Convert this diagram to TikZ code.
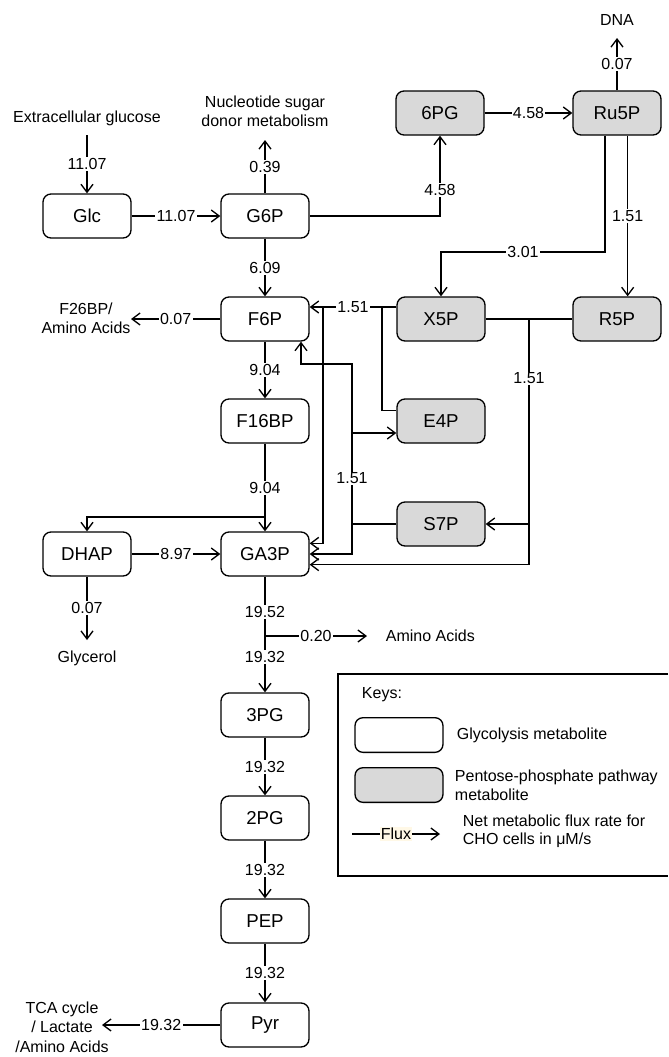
\documentclass[tikz,border=0pt]{standalone}
\usepackage{fontspec}
\setmainfont{Liberation Sans}
\usetikzlibrary{arrows.meta,positioning}
\definecolor{pppGrey}{HTML}{D9D9D9}
\definecolor{fluxTint}{HTML}{FFF8E6}
\tikzset{
  >={Straight Barb[length=6pt,width=9pt]},
  metab/.style={rounded corners=6pt, draw, line width=1pt, fill=white,
              minimum width=66pt, minimum height=33pt, inner sep=2pt,
              font=\fontsize{14}{16}\selectfont},
  ppp/.style={metab, fill=pppGrey},
  rate/.style={fill=white, inner sep=1pt, font=\fontsize{12}{14}\selectfont},
  lbl/.style={font=\fontsize{12}{14.5}\selectfont, align=center, inner sep=2pt},
  flow/.style={->, line width=1pt},
  link/.style={line width=1pt},
}

\begin{document}
\begin{tikzpicture}[x=0.75pt,y=-0.75pt]
    \useasboundingbox (0,0) rectangle (668,1057);
    % glycolysis
    \node[metab] (glc)   at (87,216)  {Glc};
    \node[metab] (g6p)   at (265,216) {G6P};
    \node[metab] (f6p)   at (265,319) {F6P};
    \node[metab] (f16bp) at (265,421) {F16BP};
    \node[metab] (dhap)  at (87,554)  {DHAP};
    \node[metab] (ga3p)  at (265,554) {GA3P};
    \node[metab] (pg3)   at (265,715) {3PG};
    \node[metab] (pg2)   at (265,818) {2PG};
    \node[metab] (pep)   at (265,921) {PEP};
    \node[metab] (pyr)   at (265,1025) {Pyr};
    % pentose phosphate
    \node[ppp] (pg6)  at (440,113) {6PG};
    \node[ppp] (ru5p) at (617,113) {Ru5P};
    \node[ppp] (x5p)  at (441,319) {X5P};
    \node[ppp] (r5p)  at (617,319) {R5P};
    \node[ppp] (e4p)  at (441,421) {E4P};
    \node[ppp] (s7p)  at (441,524) {S7P};
    % sources and sinks
    \node[lbl] (extglc) at (87,118)  {Extracellular glucose};
    \node[lbl] (nsd)    at (265,111) {Nucleotide sugar\\donor metabolism};
    \node[lbl] (dna)    at (617,20)  {DNA};
    \node[lbl] (f26)    at (86,318)  {F26BP/\\Amino Acids};
    \node[lbl] (gly)    at (87,658)  {Glycerol};
    \node[lbl,anchor=west] (aa) at (383,636) {Amino Acids};
    \node[lbl] (tca)    at (62,1027) {TCA cycle\\/ Lactate\\/Amino Acids};
    \coordinate (glctail) at (87,135);
    \coordinate (nsdtip)  at (265,140);
    \coordinate (dnatip)  at (617,38);
    \coordinate (f26tip)  at (131,319);
    \coordinate (glytip)  at (87,640);
    \coordinate (aabr)    at (265,636);
    \coordinate (aatip)   at (367,636);
    \coordinate (tcatip)  at (102,1025);
    \coordinate (dhbr)    at (265,517);

    \draw[flow](glctail)--node[rate]{11.07}(glc);
    \draw[flow](glc)--node[rate]{11.07}(g6p);
    \draw[flow](g6p)--node[rate]{0.39}(nsdtip);
    \draw[flow](g6p)--node[rate]{6.09}(f6p);
    \draw[flow](f6p.west)--node[rate]{0.07}(f26tip);
    \draw[flow](f6p)--node[rate]{9.04}(f16bp);
    \draw[flow](f16bp)--node[rate]{9.04}(ga3p);
    \draw[flow](dhbr)-|(dhap);
    \draw[flow](dhap)--node[rate]{8.97}(ga3p);
    \draw[flow](dhap)--node[rate]{0.07}(glytip);
    \draw[link](ga3p)--node[rate,pos=0.6]{19.52}(aabr);
    \draw[flow](aabr)--node[rate,pos=0.37]{19.32}(pg3);
    \draw[flow](aabr)--node[rate]{0.20}(aatip);
    \draw[flow](pg3)--node[rate]{19.32}(pg2);
    \draw[flow](pg2)--node[rate]{19.32}(pep);
    \draw[flow](pep)--node[rate]{19.32}(pyr);
    \draw[flow](pyr.west)--node[rate]{19.32}(tcatip);

    % oxidative branch
    \coordinate (ruknee) at (605,252);
    \coordinate (xknee)  at (441,252);
    \draw[flow](g6p)-|node[rate,pos=0.66]{4.58}(pg6);
    \draw[flow](pg6)--node[rate]{4.58}(ru5p);
    \draw[flow](ru5p)--node[rate]{0.07}(dnatip);
    \draw[flow](ru5p.south -| ruknee)--(ruknee)--node[rate]{3.01}(xknee)--(x5p);
    \draw[flow]([xshift=8pt]ru5p.south)--node[rate]{1.51}([xshift=8pt]r5p.north);

    % non-oxidative branch
    \coordinate (tk1)  at (382,307);
    \coordinate (tk1g) at (323,307);
    \coordinate (taTop) at (352,364);
    \coordinate (taE)  at (352,433);
    \coordinate (taS)  at (352,524);
    \coordinate (tk2)  at (529,319);
    \coordinate (tk2s) at (529,524);
    \draw[flow]([yshift=9pt]x5p.west)--node[rate]{1.51}([yshift=9pt]f6p.east);
    \draw[link](tk1)|-([yshift=8pt]e4p.west);
    \draw[flow](tk1g)|-([yshift=8pt]ga3p.east);
    \draw[flow](s7p.west)--(taS)--node[rate]{1.51}(taE)--(taTop)-|([xshift=27pt]f6p.south);
    \draw[flow](taE)--(e4p.west |- taE);
    \draw[flow](taS)|-(ga3p.east);
    \draw[link](x5p.east)--(r5p.west);
    \draw[flow](tk2)--node[rate,pos=0.29]{1.51}(tk2s)--(s7p.east);
    \draw[flow](tk2s)|-([yshift=-8pt]ga3p.east);

    % keys
    \draw[link](668,674)--(338,674)--(338,876)--(668,876);
    \node[lbl,anchor=west] (keyhd) at (359,695) {Keys:};
    \node[metab,minimum height=26pt] (keyg) at (399,735) {};
    \node[ppp,minimum height=26pt] (keyp) at (399,785) {};
    \node[lbl,anchor=west] (keygt) at (454,735) {Glycolysis metabolite};
    \node[lbl,anchor=west,align=left] (keypt) at (452,785) {Pentose-phosphate pathway\\metabolite};
    \coordinate (keyf1) at (352,834);
    \coordinate (keyf2) at (440,834);
    \draw[flow](keyf1)--node[rate,fill=fluxTint]{Flux}(keyf2);
    \node[lbl,anchor=west,align=left,font=\fontsize{12}{13.5}\selectfont] (keyft) at (460,831)
         {Net metabolic flux rate for\\CHO cells in μM/s};
  \end{tikzpicture}
\end{document}
